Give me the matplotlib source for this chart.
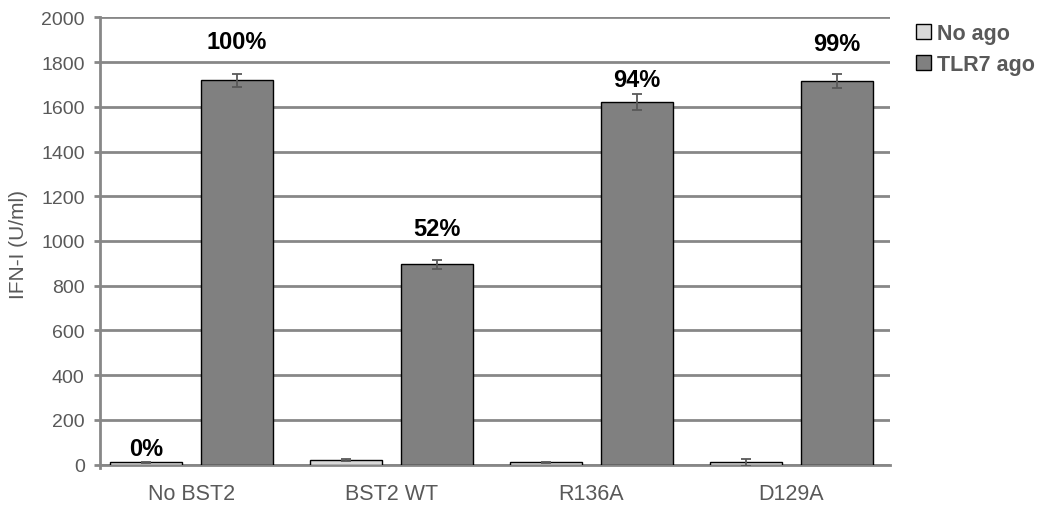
import numpy as np
import matplotlib.pyplot as plt
from matplotlib.patches import Patch

plt.rcParams['font.family'] = ['Liberation Sans', 'DejaVu Sans']

groups = ['No BST2', 'BST2 WT', 'R136A', 'D129A']
no_ago = [10, 22, 10, 10]
no_ago_err = [2, 4, 4, 14]
tlr7 = [1718, 895, 1623, 1716]
tlr7_err = [30, 20, 36, 30]
pct_labels = ['100%', '52%', '94%', '99%']
pct_y = [1890, 1058, 1722, 1885]

grid_col = '#878787'
txt_col = '#595959'

fig = plt.figure(figsize=(10.45, 5.1), dpi=100)
ax = fig.add_axes([100/1045, 44.3/510, 790/1045, 447.4/510])

x = np.arange(len(groups))
off = 0.2275
w = 0.36
ax.bar(x - off, no_ago, w, color='#d9d9d9', edgecolor='black', linewidth=1.0, zorder=3)
ax.bar(x + off, tlr7, w, color='#808080', edgecolor='black', linewidth=1.0, zorder=3)
ax.errorbar(x - off, no_ago, yerr=no_ago_err, fmt='none', ecolor=txt_col,
            elinewidth=1.3, capsize=3.6, capthick=1.3, zorder=4)
ax.errorbar(x + off, tlr7, yerr=tlr7_err, fmt='none', ecolor=txt_col,
            elinewidth=1.3, capsize=3.6, capthick=1.3, zorder=4)

# percentage of the no-BST2 response
for i, (lab, yy) in enumerate(zip(pct_labels, pct_y)):
    ax.text(x[i] + off, yy, lab, ha='center', va='center', fontsize=17,
            fontweight='bold', color='black')
ax.text(x[0] - off, 74, '0%', ha='center', va='center', fontsize=17,
        fontweight='bold', color='black')

ax.set_xlim(-0.4575, 3.4925)
ax.set_ylim(0, 2000)
ax.set_yticks(np.arange(0, 2001, 200))
ax.yaxis.grid(True, color=grid_col, linewidth=2, zorder=0)
ax.set_axisbelow(True)
ax.set_xticks(x)
ax.set_xticklabels(groups)

for s in ['top', 'right']:
    ax.spines[s].set_visible(False)
ax.spines['bottom'].set_color(grid_col)
ax.spines['bottom'].set_linewidth(2)
ax.spines['left'].set_color(grid_col)
ax.spines['left'].set_linewidth(2)
ax.spines['left'].set_bounds(-15, 2000)

ax.tick_params(axis='y', length=4, width=2, color=grid_col, pad=7,
               labelsize=14, labelcolor=txt_col)
ax.tick_params(axis='x', length=0, pad=13, labelsize=15.5, labelcolor=txt_col)
ax.set_ylabel('IFN-I (U/ml)', fontsize=15, color=txt_col)
ax.yaxis.set_label_coords(-72/790, 0.495)

handles = [Patch(facecolor='#d9d9d9', edgecolor='black', label='No ago'),
           Patch(facecolor='#808080', edgecolor='black', label='TLR7 ago')]
leg = fig.legend(handles=handles, loc='upper left', bbox_to_anchor=(899/1045, 1 - 7/510),
                 frameon=False, handlelength=0.7, handleheight=0.7,
                 handletextpad=0.25, labelspacing=0.45, borderpad=0.3,
                 prop={'size': 15.5, 'weight': 'bold'})
for t in leg.get_texts():
    t.set_color(txt_col)

fig.savefig('out.png', dpi=100)
